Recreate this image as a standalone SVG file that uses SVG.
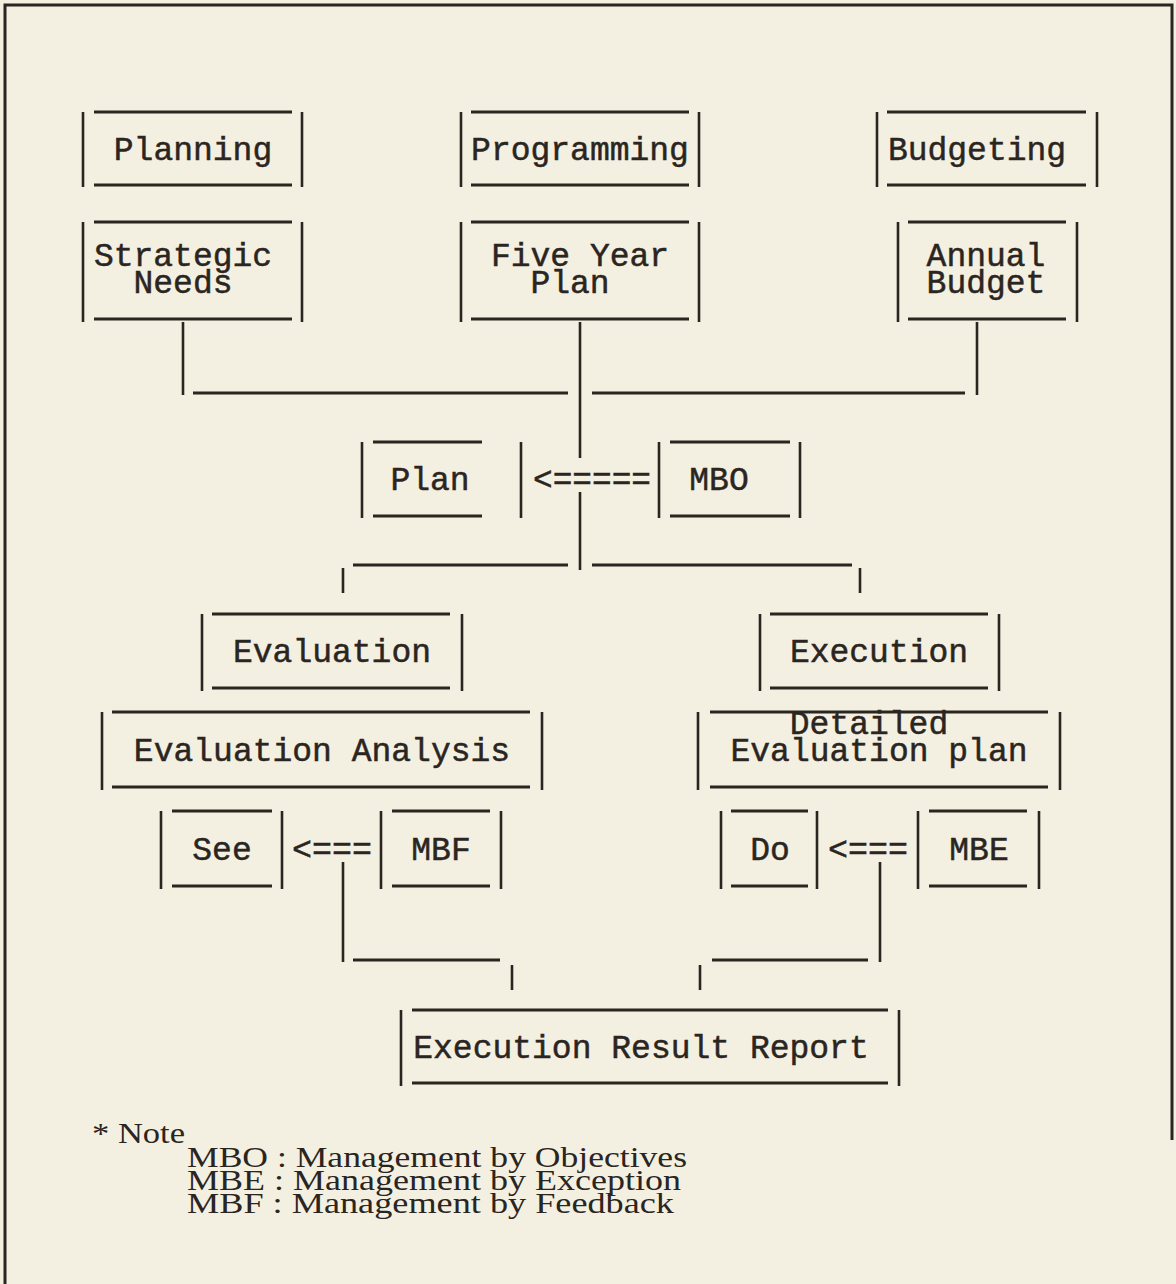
<svg xmlns="http://www.w3.org/2000/svg" width="1176" height="1284" viewBox="0 0 1176 1284">
<style>
.bg{fill:#f3f0e1}
.ln{stroke:#2b2521;stroke-width:3;fill:none;stroke-linecap:butt}
.vb{stroke:#2b2521;stroke-width:2.6;fill:none}
.t{font-family:"Liberation Mono","Courier New",monospace;font-size:33px;fill:#2b2521;stroke:#2b2521;stroke-width:0.5;text-anchor:middle}
.a{font-family:"Liberation Mono","Courier New",monospace;font-size:33px;fill:#2b2521;stroke:#2b2521;stroke-width:0.5}
.n{font-family:"Liberation Serif","Times New Roman",serif;font-size:29px;fill:#2b2521}
</style>
<rect class="bg" x="0" y="0" width="1176" height="1284"/>
<g id="frame">
<path class="ln" d="M5,1284 V5 H1172 V1140"/>
</g>
<g id="connectors">
<path class="vb" d="M183,322 V395"/>
<path class="ln" d="M193,393 H568"/>
<path class="vb" d="M580,322 V458 M580,492 V570"/>
<path class="ln" d="M592,393 H965"/>
<path class="vb" d="M977,322 V395"/>
<path class="ln" d="M353,565 H568 M592,565 H852"/>
<path class="vb" d="M343,568 V593 M860,568 V593"/>
<text class="a" x="533" y="490" textLength="118" lengthAdjust="spacingAndGlyphs">&lt;=====</text>
<text class="a" x="292" y="860" textLength="80" lengthAdjust="spacingAndGlyphs">&lt;===</text>
<text class="a" x="828" y="860" textLength="80" lengthAdjust="spacingAndGlyphs">&lt;===</text>
<path class="vb" d="M343,862 V962"/>
<path class="ln" d="M353,960 H500"/>
<path class="vb" d="M512,965 V990"/>
<path class="vb" d="M880,862 V962"/>
<path class="ln" d="M712,960 H868"/>
<path class="vb" d="M700,965 V990"/>
</g>
<g id="planning">
<path class="vb" d="M83,112 V187 M302,112 V187"/>
<path class="ln" d="M94,112 H292 M94,185 H292"/>
<text class="t" x="193" y="160">Planning</text>
</g>
<g id="programming">
<path class="vb" d="M461,112 V187 M699,112 V187"/>
<path class="ln" d="M471,112 H689 M471,185 H689"/>
<text class="t" x="580" y="160">Programming</text>
</g>
<g id="budgeting">
<path class="vb" d="M877,112 V187 M1097,112 V187"/>
<path class="ln" d="M887,112 H1086 M887,185 H1086"/>
<text class="t" x="977" y="160">Budgeting</text>
</g>
<g id="strategic-needs">
<path class="vb" d="M83,222 V322 M302,222 V322"/>
<path class="ln" d="M94,222 H292 M94,319 H292"/>
<text class="t" x="183" y="266">Strategic</text>
<text class="t" x="183" y="293">Needs</text>
</g>
<g id="five-year-plan">
<path class="vb" d="M461,222 V322 M699,222 V322"/>
<path class="ln" d="M471,222 H689 M471,319 H689"/>
<text class="t" x="580" y="266">Five Year</text>
<text class="t" x="570" y="293">Plan</text>
</g>
<g id="annual-budget">
<path class="vb" d="M898,222 V322 M1077,222 V322"/>
<path class="ln" d="M908,222 H1066 M908,319 H1066"/>
<text class="t" x="986" y="266">Annual</text>
<text class="t" x="986" y="293">Budget</text>
</g>
<g id="plan">
<path class="vb" d="M362,442 V518 M521,442 V518"/>
<path class="ln" d="M373,442 H482 M373,516 H482"/>
<text class="t" x="430" y="490">Plan</text>
</g>
<g id="mbo">
<path class="vb" d="M659,442 V518 M800,442 V518"/>
<path class="ln" d="M670,442 H790 M670,516 H790"/>
<text class="t" x="719" y="490">MBO</text>
</g>
<g id="evaluation">
<path class="vb" d="M202,614 V691 M462,614 V691"/>
<path class="ln" d="M212,614 H450 M212,688 H450"/>
<text class="t" x="332" y="662">Evaluation</text>
</g>
<g id="execution">
<path class="vb" d="M760,614 V691 M999,614 V691"/>
<path class="ln" d="M770,614 H988 M770,688 H988"/>
<text class="t" x="879" y="662">Execution</text>
</g>
<g id="evaluation-analysis">
<path class="vb" d="M102,712 V790 M542,712 V790"/>
<path class="ln" d="M112,712 H530 M112,787 H530"/>
<text class="t" x="322" y="761">Evaluation Analysis</text>
</g>
<g id="detailed-evaluation-plan">
<path class="vb" d="M698,712 V790 M1060,712 V790"/>
<path class="ln" d="M710,712 H1048 M710,787 H1048"/>
<text class="t" x="869" y="734">Detailed</text>
<text class="t" x="879" y="761">Evaluation plan</text>
</g>
<g id="see">
<path class="vb" d="M161,811 V889 M282,811 V889"/>
<path class="ln" d="M172,811 H272 M172,886 H272"/>
<text class="t" x="222" y="860">See</text>
</g>
<g id="mbf">
<path class="vb" d="M381,811 V889 M501,811 V889"/>
<path class="ln" d="M392,811 H490 M392,886 H490"/>
<text class="t" x="441" y="860">MBF</text>
</g>
<g id="do">
<path class="vb" d="M721,811 V889 M817,811 V889"/>
<path class="ln" d="M731,811 H808 M731,886 H808"/>
<text class="t" x="770" y="860">Do</text>
</g>
<g id="mbe">
<path class="vb" d="M918,811 V889 M1039,811 V889"/>
<path class="ln" d="M929,811 H1027 M929,886 H1027"/>
<text class="t" x="979" y="860">MBE</text>
</g>
<g id="execution-result-report">
<path class="vb" d="M401,1010 V1086 M899,1010 V1086"/>
<path class="ln" d="M412,1010 H888 M412,1083 H888"/>
<text class="t" x="641" y="1058">Execution Result Report</text>
</g>
<g id="note">
<text class="n" x="92" y="1143" textLength="93" lengthAdjust="spacingAndGlyphs">* Note</text>
<text class="n" x="187" y="1167" textLength="500" lengthAdjust="spacingAndGlyphs">MBO : Management by Objectives</text>
<text class="n" x="187" y="1190" textLength="494" lengthAdjust="spacingAndGlyphs">MBE : Management by Exception</text>
<text class="n" x="187" y="1213" textLength="487" lengthAdjust="spacingAndGlyphs">MBF : Management by Feedback</text>
</g>
</svg>
